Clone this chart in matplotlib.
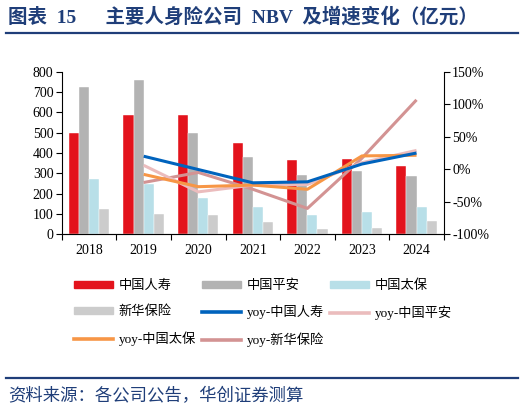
import numpy as np
import matplotlib.pyplot as plt
from matplotlib.patches import Patch
from matplotlib.lines import Line2D

years = ['2018', '2019', '2020', '2021', '2022', '2023', '2024']

# NBV (亿元)
nbv_gsrs = [498, 590, 586, 449, 363, 371, 338]   # 中国人寿
nbv_zgpa = [726, 762, 498, 379, 290, 313, 285]   # 中国平安
nbv_zgtb = [272, 247, 178, 135, 94, 109, 134]    # 中国太保
nbv_xhbx = [122, 99, 92, 59, 25, 30, 63]         # 新华保险

# yoy (%), from 2019
yoy_years = years[1:]
yoy_gsrs = [20.0, -0.5, -21.0, -19.5, 8.0, 25.0]
yoy_zgpa = [6.0, -35.0, -24.5, -23.5, 10.0, 29.0]
yoy_zgtb = [-8.0, -27.0, -24.5, -31.0, 20.5, 21.5]
yoy_xhbx = [-20.5, -5.0, -31.0, -60.5, 17.0, 107.0]

names = ['中国人寿', '中国平安', '中国太保', '新华保险']
bar_colors = ['#e3131c', '#b3b3b3', '#b8dfe8', '#cccccc']
line_colors = ['#0063bd', '#ebbcbd', '#f79646', '#d39393']

plt.rcParams['font.family'] = ['Liberation Serif', 'Noto Sans CJK SC']

fig = plt.figure(figsize=(5.24, 4.13), dpi=100)
ax = fig.add_axes([0.118, 0.4334, 0.729, 0.3923])
ax2 = ax.twinx()

x = np.arange(len(years))
w = 0.185
series = [nbv_gsrs, nbv_zgpa, nbv_zgtb, nbv_xhbx]
for i, s in enumerate(series):
    ax.bar(x + (i - 1.5) * w, s, w, color=bar_colors[i], edgecolor='white', linewidth=0.3, zorder=2)

xy = np.arange(1, len(years))
yoys = [yoy_gsrs, yoy_zgpa, yoy_zgtb, yoy_xhbx]
draw_order = [3, 1, 2, 0]
for i in draw_order:
    ax2.plot(xy, yoys[i], color=line_colors[i], lw=2.2, solid_capstyle='butt', zorder=3)

ax.set_xlim(-0.5, 6.5)
ax.set_ylim(0, 800)
ax.set_yticks(range(0, 801, 100))
ax2.set_ylim(-100, 150)
ax2.set_yticks(range(-100, 151, 50))
ax2.set_yticklabels([f'{v}%' for v in range(-100, 151, 50)])

ax.set_xticks(x)
ax.set_xticklabels(years)
ax.set_xticks(np.arange(-0.5, 7, 1), minor=True)
ax.tick_params(axis='x', which='major', length=0, pad=7, labelsize=10)
ax.tick_params(axis='x', which='minor', length=4, direction='out', width=0.8)
ax.tick_params(axis='y', length=4, width=0.8, labelsize=10, pad=2)
ax2.tick_params(axis='y', length=4, width=0.8, labelsize=10, pad=2)

for a in (ax, ax2):
    a.spines['top'].set_visible(False)
ax.spines['right'].set_visible(False)
ax2.spines['left'].set_visible(False)
ax.spines['bottom'].set_color('#808080')
ax.set_zorder(1)
ax2.set_zorder(2)

handles = [Patch(color=bar_colors[i]) for i in range(4)]
handles += [Line2D([], [], color=line_colors[i], lw=2.6) for i in range(4)]
labels = names + ['yoy-' + n for n in names]
# order to fill rows of 3 columns
order = [0, 3, 6, 1, 4, 7, 2, 5]
fig.legend([handles[k] for k in order], [labels[k] for k in order],
           ncol=3, loc='upper left', bbox_to_anchor=(0.118, 0.352),
           frameon=False, fontsize=9.5, handlelength=2.95, handleheight=0.45,
           columnspacing=0.45, handletextpad=0.45, labelspacing=1.0)

navy = '#1f3e79'
fig.text(0.015, 0.96, '图表  15　  主要人身险公司  NBV  及增速变化（亿元）', color=navy,
         fontsize=14, fontweight='bold', va='center')
fig.add_artist(Line2D([0.011, 0.989], [0.920, 0.920], color=navy, lw=1.6))
fig.add_artist(Line2D([0.011, 0.989], [0.085, 0.085], color=navy, lw=1.6))
fig.text(0.015, 0.040, '资料来源：各公司公告，华创证券测算', color=navy, fontsize=12.5,
         style='italic', va='center', family=['Noto Sans CJK SC'])

fig.savefig('out.png', dpi=100)
